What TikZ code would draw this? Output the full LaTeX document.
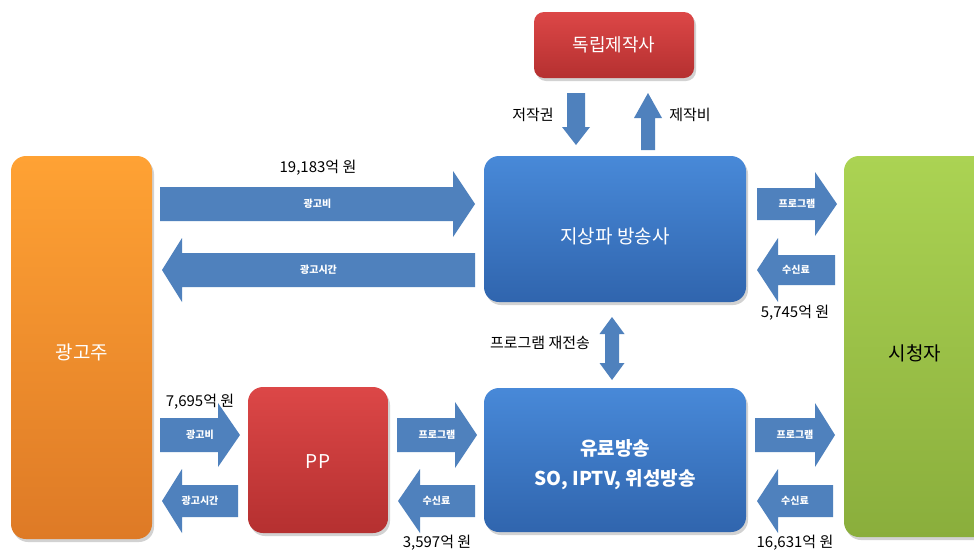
\documentclass[tikz,border=0pt]{standalone}
\usepackage{fontspec}
\setmainfont{Noto Sans CJK KR}
\usetikzlibrary{shadows}
\definecolor{arr}{HTML}{4F81BD}
\definecolor{orgT}{HTML}{FFA234}
\definecolor{orgB}{HTML}{DE7A26}
\definecolor{bluT}{HTML}{4889D8}
\definecolor{bluB}{HTML}{3065AE}
\definecolor{redT}{HTML}{DC4747}
\definecolor{redB}{HTML}{B53030}
\definecolor{grnT}{HTML}{ABD353}
\definecolor{grnB}{HTML}{8AAE3C}
\tikzset{
  box/.style={rounded corners=15pt, drop shadow={opacity=0.35, shadow xshift=2pt, shadow yshift=-3pt}},
  arrlabel/.style={text=white, font=\fontsize{10}{12}\selectfont\bfseries, inner sep=0pt},
  money/.style={text=black, font=\fontsize{15}{17}\selectfont, inner sep=0pt},
  boxtext/.style={text=white, font=\fontsize{19}{23}\selectfont, inner sep=0pt, align=center},
}
\newcommand{\harrow}[8]{%
  \pgfmathsetmacro{\hb}{#3>#2 ? #3-#7 : #3+#7}%
  \fill[arr] (#2,#4-#5) -- (\hb,#4-#5) -- (\hb,#4-#6) -- (#3,#4) -- (\hb,#4+#6) -- (\hb,#4+#5) -- (#2,#4+#5) -- cycle;
  \node[arrlabel] (#1) at ({(#2+#3)/2},#4) {#8};
}
\newcommand{\varrow}[7]{%
  \pgfmathsetmacro{\hb}{#3>#2 ? #3-#7 : #3+#7}%
  \fill[arr] (#4-#5,#2) -- (#4-#5,\hb) -- (#4-#6,\hb) -- (#4,#3) -- (#4+#6,\hb) -- (#4+#5,\hb) -- (#4+#5,#2) -- cycle;
  \coordinate (#1) at (#4,{(#2+#3)/2});
}
\begin{document}
\begin{tikzpicture}[x=1pt, y=-1pt]
\clip (0,0) rectangle (974,555);
\fill[white] (0,0) rectangle (974,555);

% boxes
\path[box, top color=orgT, bottom color=orgB] (11,156) rectangle (152,539);
\node[boxtext] (adv) at (82,352) {광고주};

\path[box, top color=bluT, bottom color=bluB] (484,156) rectangle (746,302);
\node[boxtext] (terr) at (615,236) {지상파 방송사};

\path[box, top color=bluT, bottom color=bluB] (484,388) rectangle (746,532);
\node[boxtext, font=\fontsize{19}{30}\selectfont\bfseries] (pay) at (615,465) {유료방송\\SO, IPTV, 위성방송};

\path[box, rounded corners=10pt, top color=redT, bottom color=redB] (534,12) rectangle (694,78);
\node[boxtext, font=\fontsize{18}{22}\selectfont] (indep) at (614,45) {독립제작사};

\path[box, top color=redT, bottom color=redB] (248,387) rectangle (388,533);
\node[boxtext, font=\fontsize{19}{22}\selectfont] (pp) at (318,462) {PP};

\path[box, top color=grnT, bottom color=grnB] (844,156) rectangle (1000,537);
\node[boxtext, text=black] (viewer) at (915,353) {시청자};

% horizontal block arrows
\harrow{a1}{160}{475}{204}{17}{33}{22}{광고비}
\harrow{a2}{475}{162}{270}{17}{32}{20}{광고시간}
\harrow{a3}{757}{837}{204}{16}{32}{22}{프로그램}
\harrow{a4}{835}{757}{270}{15}{32}{21}{수신료}
\harrow{a5}{160}{240}{435}{17}{32}{22}{광고비}
\harrow{a6}{238}{162}{501}{16}{32}{20}{광고시간}
\harrow{a7}{397}{477}{435}{17}{33}{22}{프로그램}
\harrow{a8}{475}{398}{501}{16}{32}{22}{수신료}
\harrow{a9}{755}{835}{435}{17}{32}{20}{프로그램}
\harrow{a10}{833}{757}{501}{16}{32}{21}{수신료}

% vertical arrows
\varrow{v1}{93}{145}{576}{9}{14}{18}
\varrow{v2}{150}{93}{648}{7}{14}{25}
\fill[arr] (612,317) -- (624.5,334) -- (619,334) -- (619,363) -- (624.5,363) -- (612,380) -- (599.5,363) -- (605,363) -- (605,334) -- (599.5,334) -- cycle;
\coordinate (v3) at (612,348);

% labels
\node[money] (m1) at (318,168) {19,183억 원};
\node[money] (m2) at (795,313) {5,745억 원};
\node[money] (m3) at (200,402) {7,695억 원};
\node[money] (m4) at (437,543) {3,597억 원};
\node[money] (m5) at (795,543) {16,631억 원};
\node[money] (l1) at (533,115) {저작권};
\node[money] (l2) at (690,115) {제작비};
\node[money] (l3) at (540,343) {프로그램 재전송};
\end{tikzpicture}
\end{document}
